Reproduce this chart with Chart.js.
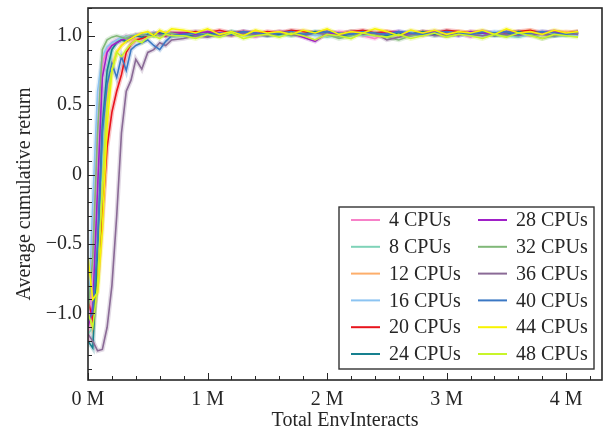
<!DOCTYPE html>
<html>
<head>
<meta charset="utf-8">
<script src="https://cdn.jsdelivr.net/npm/chart.js@4.4.1/dist/chart.umd.min.js"></script>
<style>
  html, body { margin: 0; padding: 0; background: #fff; }
</style>
</head>
<body>
<canvas id="returnChart" width="613" height="436"></canvas>
<script>
// x positions of the samples, in millions of env interactions
const steps = [0, 0.04, 0.08, 0.12, 0.16, 0.2, 0.24, 0.28, 0.32, 0.36, 0.4, 0.45, 0.5, 0.55, 0.6, 0.65, 0.7,
  0.8, 0.9, 1.0, 1.1, 1.2, 1.3, 1.4, 1.5, 1.6, 1.7, 1.8, 1.9, 2.0, 2.1, 2.2, 2.3, 2.4,
  2.5, 2.6, 2.7, 2.8, 2.9, 3.0, 3.1, 3.2, 3.3, 3.4, 3.5, 3.6, 3.7, 3.8, 3.9, 4.0, 4.1];

const xTicks = [0, 1, 2, 3, 4];
const xTickLabels = ['0 M', '1 M', '2 M', '3 M', '4 M'];
const yTicks = [-1, -0.5, 0, 0.5, 1];
const yTickLabels = ['\u22121.0', '\u22120.5', '0', '0.5', '1.0'];

const cpus4 = [-1.2, -0.6, 0.3, 0.8, 0.9, 0.95, 0.97, 0.98, 1.0, 0.99, 1.01, 1.0, 1.02, 1.01, 1.0, 1.02, 1.01,
  1.01, 1.02, 1.0, 1.03, 1.01, 1.02, 0.99, 1.02, 1.03, 1.01,
  1.0, 1.02, 1.01, 1.03, 1.02, 1.0, 0.98, 1.02, 1.01, 1.03,
  1.02, 1.01, 1.0, 1.02, 0.99, 1.03, 1.02, 1.01, 1.02, 1.0,
  1.03, 1.02, 1.01, 1.02];
const cpus8 = [-1.15, -1.1, -0.7, 0.1, 0.7, 0.9, 0.96, 0.98, 1.0, 0.99, 1.01, 1.0, 1.02, 1.0, 1.01, 1.02, 1.0,
  1.0, 1.01, 1.02, 1.0, 1.02, 1.01, 1.0, 1.02, 1.01, 1.0,
  1.02, 1.01, 0.99, 1.01, 1.02, 1.0, 1.01, 1.02, 1.0, 1.01,
  1.02, 1.0, 1.02, 1.01, 1.0, 1.01, 1.02, 1.0, 0.99, 1.01,
  1.02, 1.01, 1.0, 1.01];
const cpus12 = [-1.0, -1.12, -0.75, -0.1, 0.55, 0.78, 0.88, 0.93, 0.96, 0.97, 0.98, 1.0, 0.99, 1.01, 1.0, 1.02, 1.01,
  1.02, 1.01, 1.03, 1.02, 1.0, 1.02, 1.03, 1.01, 1.02, 1.03,
  1.01, 1.02, 1.0, 1.02, 1.03, 1.01, 1.02, 1.03, 1.01, 1.02,
  1.0, 1.03, 1.02, 1.01, 1.03, 1.02, 1.01, 1.03, 1.02, 1.04,
  1.01, 1.02, 1.03, 1.02];
const cpus16 = [-1.1, -0.2, 0.6, 0.85, 0.92, 0.95, 0.97, 0.99, 0.98, 1.0, 0.99, 1.01, 1.0, 1.02, 1.01, 1.02, 1.0,
  1.01, 1.03, 1.02, 1.01, 1.03, 1.02, 1.0, 1.02, 1.01, 1.03,
  1.02, 1.0, 1.02, 1.01, 1.03, 1.02, 1.01, 1.0, 1.02, 1.03,
  1.01, 1.02, 1.03, 1.0, 1.02, 1.01, 1.03, 1.02, 1.0, 1.01,
  1.03, 1.02, 1.01, 1.0];
const cpus20 = [-0.9, -1.05, -0.75, -0.3, 0.2, 0.45, 0.6, 0.72, 0.88, 0.94, 0.97, 0.98, 1.0, 1.01, 1.02, 1.0, 1.02,
  1.02, 1.03, 1.02, 1.04, 1.02, 1.03, 1.01, 1.03, 1.02, 1.04,
  1.03, 1.02, 1.03, 1.01, 1.03, 1.04, 1.02, 1.03, 1.02, 1.01,
  1.03, 1.02, 1.04, 1.03, 1.02, 1.03, 1.01, 1.02, 1.03, 1.04,
  1.02, 1.03, 1.02, 1.03];
const cpus24 = [-1.2, -1.25, -0.55, 0.35, 0.75, 0.9, 0.95, 0.97, 0.96, 0.98, 1.0, 0.99, 1.01, 1.0, 1.02, 1.01, 1.0,
  1.01, 1.0, 1.02, 1.01, 1.03, 1.01, 1.02, 1.0, 1.01, 1.02,
  1.01, 1.03, 1.02, 1.0, 1.01, 1.02, 1.01, 1.0, 1.02, 1.01,
  1.03, 1.01, 1.0, 1.02, 1.01, 1.02, 1.0, 1.01, 1.03, 1.01,
  1.02, 1.0, 1.01, 1.02];
const cpus28 = [-1.1, -0.95, -0.1, 0.7, 0.88, 0.93, 0.95, 0.97, 0.98, 0.99, 1.0, 1.01, 1.0, 1.02, 1.01, 1.0, 1.02,
  1.02, 1.01, 1.03, 1.02, 1.01, 1.03, 1.02, 1.01, 1.03, 1.02,
  0.99, 0.96, 1.02, 1.01, 1.03, 1.02, 1.01, 1.02, 1.03, 1.01,
  1.02, 1.03, 1.02, 1.0, 1.03, 1.02, 1.01, 1.03, 1.02, 1.01,
  1.02, 1.03, 1.01, 1.02];
const cpus32 = [-1.0, -0.6, 0.3, 0.9, 0.97, 0.99, 1.0, 0.99, 0.98, 1.0, 1.0, 1.01, 1.0, 1.02, 1.0, 1.01, 1.02,
  1.0, 1.02, 1.01, 1.0, 1.02, 1.01, 1.0, 1.01, 1.02, 1.0,
  1.01, 1.02, 1.01, 0.98, 1.0, 1.02, 1.01, 0.99, 0.97, 1.0,
  1.01, 1.02, 1.0, 1.01, 1.02, 1.0, 1.01, 1.0, 1.02, 1.01,
  0.98, 1.0, 1.01, 1.02];
const cpus36 = [-1.15, -1.2, -1.27, -1.26, -1.1, -0.8, -0.3, 0.3, 0.6, 0.68, 0.83, 0.76, 0.88, 0.9, 0.95, 0.93, 0.97,
  0.98, 1.0, 0.99, 1.01, 1.0, 1.02, 1.01, 1.0, 1.02, 1.01,
  1.0, 1.02, 1.01, 1.0, 1.02, 1.01, 1.02, 0.97, 0.99, 1.01,
  1.02, 1.0, 1.01, 1.02, 1.01, 1.0, 1.02, 1.01, 1.0, 1.02,
  1.01, 1.0, 1.02, 1.01];
const cpus40 = [-1.05, -1.0, -0.5, 0.3, 0.65, 0.8, 0.7, 0.85, 0.75, 0.9, 0.93, 0.95, 0.97, 0.93, 0.9, 0.96, 1.0,
  1.01, 1.02, 1.0, 1.02, 1.01, 1.03, 1.02, 1.01, 1.02, 1.03,
  1.01, 1.02, 1.03, 1.02, 1.01, 1.03, 1.02, 1.01, 1.03, 1.02,
  1.01, 1.02, 1.03, 1.02, 1.01, 1.03, 1.02, 1.03, 1.01, 1.02,
  1.03, 1.02, 1.01, 1.03];
const cpus44 = [-0.6, -0.9, -0.85, -0.4, 0.35, 0.75, 0.88, 0.93, 0.96, 0.98, 1.0, 1.02, 1.03, 1.0, 1.04, 1.02, 1.05,
  1.04, 1.02, 1.05, 1.01, 1.03, 1.0, 1.04, 1.02, 1.03, 1.01,
  1.04, 1.02, 1.05, 1.01, 1.03, 1.02, 1.05, 1.03, 1.0, 1.04,
  1.02, 1.04, 1.01, 1.03, 1.02, 1.04, 1.01, 1.05, 1.02, 1.03,
  1.01, 1.04, 1.02, 1.03];
const cpus48 = [-1.0, -1.1, -0.8, -0.1, 0.5, 0.75, 0.88, 0.85, 0.9, 0.94, 0.97, 0.95, 0.99, 1.0, 0.98, 1.01, 1.0,
  1.0, 0.98, 1.01, 0.99, 1.02, 0.98, 1.0, 1.01, 0.99, 1.02,
  1.0, 0.97, 1.01, 1.0, 0.98, 1.02, 1.0, 0.99, 1.01, 0.98,
  1.0, 1.02, 0.99, 1.01, 1.0, 0.98, 1.01, 0.99, 1.02, 1.0,
  0.98, 1.01, 1.0, 0.99];

const seriesNames = ['4 CPUs', '8 CPUs', '12 CPUs', '16 CPUs', '20 CPUs', '24 CPUs',
  '28 CPUs', '32 CPUs', '36 CPUs', '40 CPUs', '44 CPUs', '48 CPUs'];
const seriesValues = [cpus4, cpus8, cpus12, cpus16, cpus20, cpus24,
  cpus28, cpus32, cpus36, cpus40, cpus44, cpus48];
const seriesColors = ['#f781c8', '#7fd3b8', '#fdae6b', '#8cc4f2', '#e8141c', '#16808f',
  '#a020c8', '#80b878', '#8a6a96', '#3b78c4', '#f8f400', '#c8f52a'];

const FONT = { family: '"Liberation Serif", "Times New Roman", serif', size: 20 };
const INK = '#262626';

// axes frame, inward ticks and the two-column legend box
const framePlugin = {
  id: 'frame',
  afterDraw(chart) {
    const { ctx, chartArea: a, scales } = chart;
    const xs = scales.x, ys = scales.y;
    ctx.save();
    ctx.strokeStyle = INK;
    ctx.lineWidth = 1;
    ctx.beginPath();
    for (let v = 0; v <= xs.max + 1e-9; v += 0.2) {
      const px = Math.round(xs.getPixelForValue(v)) + 0.5;
      const major = Math.abs(v - Math.round(v)) < 1e-6;
      ctx.moveTo(px, a.bottom);
      ctx.lineTo(px, a.bottom - (major ? 7 : 4));
    }
    for (let k = -14; k <= 12; k++) {
      const v = k / 10;
      if (v < ys.min || v > ys.max) continue;
      const py = Math.round(ys.getPixelForValue(v)) + 0.5;
      const major = k % 5 === 0;
      ctx.moveTo(a.left, py);
      ctx.lineTo(a.left + (major ? 7 : 4), py);
    }
    ctx.stroke();

    ctx.lineWidth = 1.6;
    ctx.strokeRect(a.left, a.top, a.right - a.left, a.bottom - a.top);

    // legend
    const boxW = 255, boxH = 162;
    const bx = a.right - 8 - boxW, by = a.bottom - 11 - boxH;
    ctx.fillStyle = '#fff';
    ctx.fillRect(bx, by, boxW, boxH);
    ctx.lineWidth = 1.4;
    ctx.strokeStyle = '#333';
    ctx.strokeRect(bx, by, boxW, boxH);
    ctx.font = FONT.size + 'px ' + FONT.family;
    ctx.textBaseline = 'middle';
    ctx.textAlign = 'left';
    chart.data.datasets.filter(ds => !ds.shade).forEach((ds, i) => {
      const col = Math.floor(i / 6), row = i % 6;
      const lx = bx + 12 + col * 127;
      const ly = by + 13 + row * 26.8;
      ctx.strokeStyle = ds.borderColor;
      ctx.lineWidth = 2;
      ctx.beginPath();
      ctx.moveTo(lx, ly);
      ctx.lineTo(lx + 29, ly);
      ctx.stroke();
      ctx.fillStyle = INK;
      ctx.fillText(ds.label, lx + 38, ly + 1);
    });
    ctx.restore();
  }
};

const lines = seriesValues.map((vals, i) => ({
  label: seriesNames[i],
  data: vals.map((y, j) => ({ x: steps[j], y: y })),
  borderColor: seriesColors[i],
  borderWidth: 1.6,
  pointRadius: 0,
  tension: 0,
  order: seriesValues.length - i
}));
// soft halo under every curve, like the faint raw runs in the original
const halos = lines.map(ds => ({
  ...ds,
  shade: true,
  borderColor: ds.borderColor + '40',
  borderWidth: 4.5,
  order: 100
}));

new Chart(document.getElementById('returnChart'), {
  type: 'line',
  data: { datasets: lines.concat(halos) },
  options: {
    responsive: false,
    animation: false,
    devicePixelRatio: 1,
    layout: { padding: { top: 8, right: 11, left: 0, bottom: 0 } },
    plugins: { legend: { display: false }, tooltip: { enabled: false } },
    scales: {
      x: {
        type: 'linear',
        min: 0,
        max: 4.3,
        afterBuildTicks: s => { s.ticks = xTicks.map(v => ({ value: v })); },
        afterFit: s => { s.height = 56; s.paddingLeft = 0; s.paddingRight = 0; },
        grid: { display: false, tickLength: 0 },
        border: { display: false },
        ticks: {
          font: FONT, color: INK, padding: 8, maxRotation: 0,
          callback: (v, i) => xTickLabels[i]
        },
        title: { display: true, text: 'Total EnvInteracts', font: FONT, color: INK, padding: { top: 0, bottom: 3 } }
      },
      y: {
        min: -1.48,
        max: 1.2,
        afterBuildTicks: s => { s.ticks = yTicks.map(v => ({ value: v })); },
        afterFit: s => { s.width = 88; s.paddingTop = 0; s.paddingBottom = 0; },
        grid: { display: false, tickLength: 0 },
        border: { display: false },
        ticks: {
          font: FONT, color: INK, padding: 6,
          callback: (v, i) => yTickLabels[i]
        },
        title: { display: true, text: 'Average cumulative return', font: FONT, color: INK, padding: { top: 13, bottom: 0 } }
      }
    }
  },
  plugins: [framePlugin]
});
</script>
</body>
</html>
